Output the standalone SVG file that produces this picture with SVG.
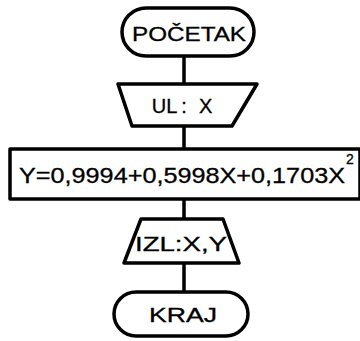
<svg xmlns="http://www.w3.org/2000/svg" width="360" height="341" viewBox="0 0 360 341">
<style>
.s{fill:#fff;stroke:#000;stroke-width:3.5;stroke-linejoin:round}
.c{fill:none;stroke:#000;stroke-width:3.5}
.t{font-family:"Liberation Sans",Arial,sans-serif;fill:#000;stroke:#000;stroke-width:0.3;text-anchor:middle}
</style>
<rect width="360" height="341" fill="#fff"/>
<g id="connectors">
<line class="c" x1="184" y1="56" x2="184" y2="84"/>
<line class="c" x1="184" y1="126" x2="184" y2="149"/>
<line class="c" x1="184" y1="199" x2="184" y2="219"/>
<line class="c" x1="184" y1="263" x2="184" y2="292"/>
</g>
<g id="start">
<rect class="s" x="122" y="8" width="132" height="48" rx="24"/>
<text class="t" x="189" y="41" font-size="20" textLength="114" lengthAdjust="spacingAndGlyphs">POČETAK</text>
</g>
<g id="input">
<polygon class="s" points="118,84 257,84 232,126 132,126"/>
<text class="t" x="182" y="113" font-size="20">UL<tspan dx="4">:</tspan><tspan dx="12">X</tspan></text>
</g>
<g id="process">
<rect class="s" x="10" y="149" width="350" height="50"/>
<text class="t" x="182" y="183" font-size="22" textLength="326" lengthAdjust="spacingAndGlyphs">Y=0,9994+0,5998X+0,1703X</text>
<text class="t" x="350" y="164" font-size="14">2</text>
</g>
<g id="output">
<polygon class="s" points="141,219 223,219 239,263 124,263"/>
<text class="t" x="181" y="251" font-size="20" textLength="92" lengthAdjust="spacingAndGlyphs">IZL:X,Y</text>
</g>
<g id="end">
<rect class="s" x="114" y="292" width="134" height="44" rx="22"/>
<text class="t" x="183" y="322" font-size="20" textLength="68" lengthAdjust="spacingAndGlyphs">KRAJ</text>
</g>
</svg>
